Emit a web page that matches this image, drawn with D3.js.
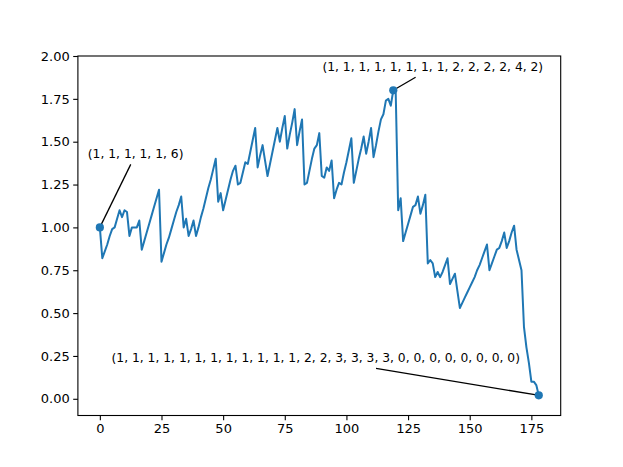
<!DOCTYPE html>
<html>
<head>
<meta charset="utf-8">
<script src="https://cdn.jsdelivr.net/npm/d3@7"></script>
<style>
  html, body { margin: 0; padding: 0; background: #ffffff; }
  svg { display: block; }
  text { font-family: "DejaVu Sans", sans-serif; fill: #000; }
</style>
</head>
<body>
<svg id="chart" width="623" height="467"></svg>
<script>
// ---- data ----
const values = [
  1.00, 0.82, 0.86, 0.90, 0.95, 0.99, 1.00, 1.05, 1.10, 1.06,
  1.10, 1.09, 0.95, 1.00, 1.00, 1.00, 1.04, 0.87, 0.92, 0.97,
  1.02, 1.07, 1.12, 1.17, 1.22, 0.80, 0.85, 0.90, 0.94, 0.99,
  1.04, 1.09, 1.13, 1.18, 1.00, 1.05, 0.95, 0.99, 1.04, 0.95,
  1.00, 1.06, 1.11, 1.17, 1.23, 1.28, 1.34, 1.40, 1.15, 1.20,
  1.10, 1.16, 1.22, 1.28, 1.33, 1.36, 1.25, 1.26, 1.32, 1.38,
  1.37, 1.44, 1.51, 1.58, 1.35, 1.42, 1.48, 1.39, 1.30, 1.37,
  1.44, 1.51, 1.58, 1.50, 1.58, 1.65, 1.46, 1.54, 1.61, 1.69,
  1.48, 1.56, 1.63, 1.25, 1.26, 1.33, 1.40, 1.46, 1.48, 1.55,
  1.30, 1.29, 1.35, 1.33, 1.39, 1.17, 1.22, 1.26, 1.25, 1.32,
  1.38, 1.45, 1.52, 1.26, 1.33, 1.40, 1.46, 1.53, 1.43, 1.50,
  1.58, 1.41, 1.48, 1.56, 1.63, 1.66, 1.74, 1.75, 1.71, 1.80,
  1.78, 1.10, 1.17, 0.92, 0.97, 1.02, 1.07, 1.12, 1.13, 1.18,
  1.08, 1.13, 1.19, 0.79, 0.81, 0.79, 0.71, 0.74, 0.71, 0.74,
  0.78, 0.82, 0.67, 0.70, 0.73, 0.63, 0.53, 0.56, 0.59, 0.62,
  0.65, 0.68, 0.71, 0.75, 0.78, 0.82, 0.86, 0.90, 0.75, 0.79,
  0.83, 0.87, 0.88, 0.92, 0.97, 0.88, 0.92, 0.97, 1.01, 0.87,
  0.81, 0.75, 0.42, 0.30, 0.21, 0.10, 0.10, 0.08, 0.02
];
const xTicks = [0, 25, 50, 75, 100, 125, 150, 175];
const yTicks = [0.00, 0.25, 0.50, 0.75, 1.00, 1.25, 1.50, 1.75, 2.00];
const annotIndex = [0, 119, 178];
const annotLabels = [
  "(1, 1, 1, 1, 1, 6)",
  "(1, 1, 1, 1, 1, 1, 1, 1, 2, 2, 2, 2, 4, 2)",
  "(1, 1, 1, 1, 1, 1, 1, 1, 1, 1, 1, 1, 2, 2, 3, 3, 3, 3, 0, 0, 0, 0, 0, 0, 0, 0)"
];

// ---- layout ----
const W = 623, H = 467;
const L = 77.9, R = 560.7, T = 56, B = 415.5;
const annotOffsets = [[35.8, -73], [39.5, -23], [-223, -37]]; // text centre relative to point (px)
const color = "#1f77b4";

const svg = d3.select("#chart");
const x = d3.scaleLinear().domain([-8.9, 186.9]).range([L, R]);
const y = d3.scaleLinear().domain([-0.0975, 2.0]).range([B, T]);

// axes
const xAxis = d3.axisBottom(x).tickValues(xTicks).tickSize(4.7).tickPadding(3.5).tickFormat(d3.format("d"));
const yAxis = d3.axisLeft(y).tickValues(yTicks).tickSize(4.7).tickPadding(3.5).tickFormat(d3.format(".2f"));

const gx = svg.append("g").attr("transform", `translate(0,${B})`).call(xAxis);
const gy = svg.append("g").attr("transform", `translate(${L},0)`).call(yAxis);
[gx, gy].forEach(g => {
  g.select(".domain").remove();
  g.selectAll(".tick line").attr("stroke", "#000").attr("stroke-width", 1.1);
  g.selectAll(".tick text").attr("font-size", "13px").attr("font-family", "DejaVu Sans").attr("fill", "#000");
});

// line
const line = d3.line().x((d, i) => x(i)).y(d => y(d));
svg.append("path").datum(values)
  .attr("d", line)
  .attr("fill", "none")
  .attr("stroke", color)
  .attr("stroke-width", 2)
  .attr("stroke-linejoin", "round");

// frame
svg.append("rect").attr("x", L).attr("y", T).attr("width", R - L).attr("height", B - T)
  .attr("fill", "none").attr("stroke", "#000").attr("stroke-width", 1.1);

// annotations
annotIndex.forEach((idx, k) => {
  const px = x(idx), py = y(values[idx]);
  const cx = px + annotOffsets[k][0], cy = py + annotOffsets[k][1];
  const t = svg.append("text")
    .attr("x", cx).attr("y", cy)
    .attr("text-anchor", "middle")
    .attr("dominant-baseline", "central")
    .attr("font-size", "12.3px")
    .text(annotLabels[k]);
  const bb = t.node().getBBox();
  const bcx = bb.x + bb.width / 2, bcy = bb.y + bb.height / 2;
  const hw = bb.width / 2 + 3, hh = bb.height / 2 + 3;
  const dx = px - bcx, dy = py - bcy;
  const s = Math.min(Math.abs(hw / dx), Math.abs(hh / dy));
  const sx = bcx + dx * s, sy = bcy + dy * s;
  const len = Math.hypot(px - sx, py - sy);
  const ex = px - (px - sx) / len * 2.5, ey = py - (py - sy) / len * 2.5;
  svg.append("line").attr("x1", sx).attr("y1", sy).attr("x2", ex).attr("y2", ey)
    .attr("stroke", "#000").attr("stroke-width", 1.3);
  svg.append("circle").attr("cx", px).attr("cy", py).attr("r", 4.1).attr("fill", color);
});
</script>
</body>
</html>
